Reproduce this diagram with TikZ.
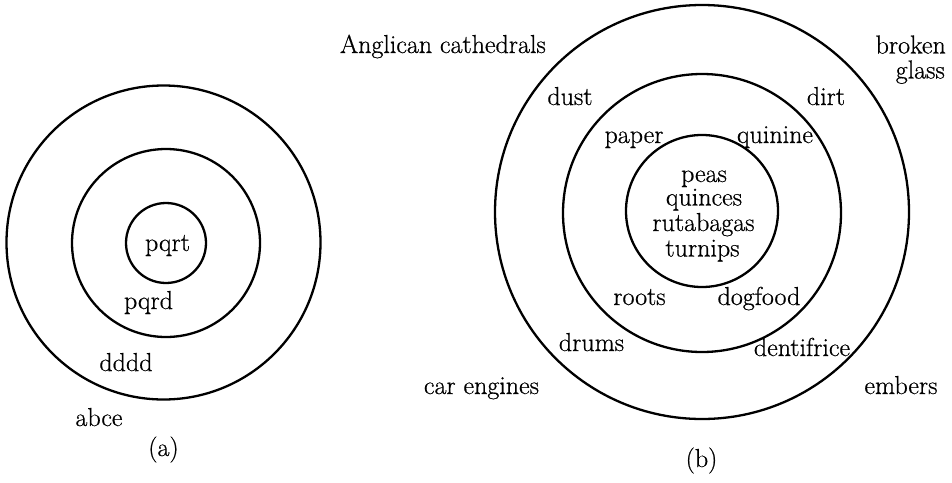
\documentclass[tikz,border=0pt]{standalone}
\usepackage{fontspec}
\setmainfont{Latin Modern Roman}[FakeBold=0.6]
\begin{document}
\begin{tikzpicture}[x=1pt,y=-1pt,
  ring/.style={draw, circle, line width=2.3pt, inner sep=0pt, minimum size=#1},
  lbl/.style={anchor=base, inner sep=0pt, font=\fontsize{26}{26}\selectfont},
  lble/.style={anchor=base east, inner sep=0pt, font=\fontsize{26}{26}\selectfont}]
\useasboundingbox (0,0) rectangle (952,482);
% (a)
\node[ring=314pt] (aO) at (163.5,242.5) {};
\node[ring=188pt] (aM) at (166,243) {};
\node[ring=80pt] (aI) at (166,243) {};
\node[lbl] (pqrt) at (167.5,251) {pqrt};
\node[lbl] (pqrd) at (148.5,309) {pqrd};
\node[lbl] (dddd) at (126,371) {dddd};
\node[lbl] (abce) at (99,426) {abce};
\node[lbl] (capa) at (163.5,456) {(a)};
% (b)
\node[ring=414pt] (bO) at (702,212) {};
\node[ring=278pt] (bM) at (702,213) {};
\node[ring=152pt] (bI) at (702,211) {};
\node[lble] (cath) at (546,53) {Anglican cathedrals};
\node[lble] (broken) at (946,53.5) {broken};
\node[lble] (glass) at (945,78.5) {glass};
\node[lbl] (dust) at (570,105) {dust};
\node[lbl] (dirt) at (826,105) {dirt};
\node[lbl] (paper) at (634,143) {paper};
\node[lbl] (quinine) at (775,143) {quinine};
\node[lbl] (peas) at (704,182) {peas};
\node[lbl] (quinces) at (704,205.5) {quinces};
\node[lbl] (rutabagas) at (703.5,231) {rutabagas};
\node[lbl] (turnips) at (702.5,256.5) {turnips};
\node[lbl] (roots) at (639.5,305) {roots};
\node[lbl] (dogfood) at (759,305) {dogfood};
\node[lbl] (drums) at (591.5,351) {drums};
\node[lbl] (dentifrice) at (802,356) {dentifrice};
\node[lbl] (carengines) at (481.5,394) {car engines};
\node[lbl] (embers) at (901,394) {embers};
\node[lbl] (capb) at (701.5,467) {(b)};
\end{tikzpicture}
\end{document}
